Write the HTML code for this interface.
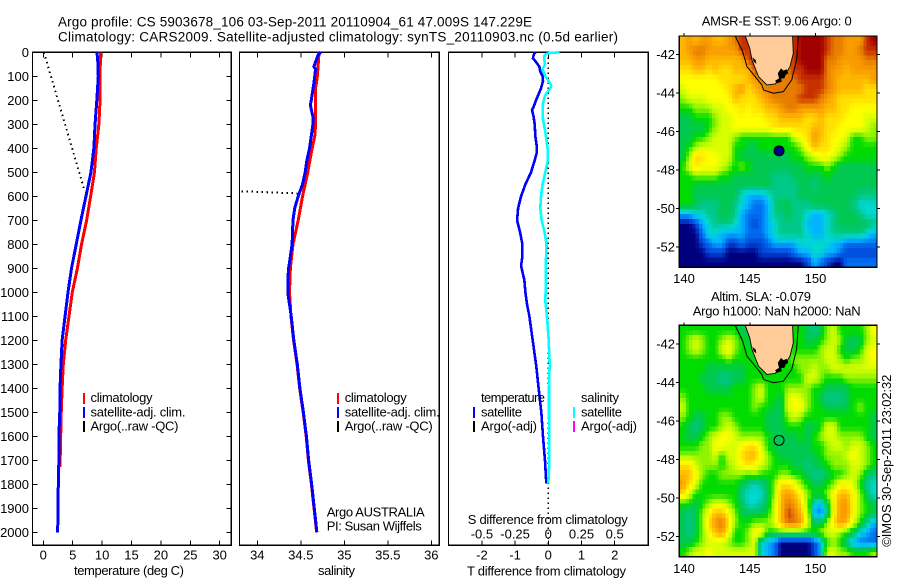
<!DOCTYPE html>
<html>
<head>
<meta charset="utf-8">
<title>Argo profile</title>
<style>
html,body{margin:0;padding:0;background:#fff;}
svg{display:block;font-family:"Liberation Sans",sans-serif;font-size:13px;fill:#000;}
text{fill:#000;stroke:none;}
</style>
</head>
<body>
<svg id="fig" width="900" height="580" viewBox="0 0 900 580" xmlns="http://www.w3.org/2000/svg">
  <defs>
    <clipPath id="clip-map1"><rect x="679.3" y="36" width="197.7" height="231.3"/></clipPath>
    <clipPath id="clip-map2"><rect x="679.3" y="325.3" width="197.7" height="231.4"/></clipPath>
  </defs>
  <rect x="0" y="0" width="900" height="580" fill="#fff"/>
  <text x="58" y="26.5" font-size="13.5" textLength="474">Argo profile: CS 5903678_106 03-Sep-2011 20110904_61 47.009S 147.229E</text>
  <text x="58" y="41.5" font-size="13.5" textLength="560">Climatology: CARS2009. Satellite-adjusted climatology: synTS_20110903.nc (0.5d earlier)</text>

  <g id="p1"></g>
  <g id="p2"></g>
  <g id="p3"></g>
  <g id="m1"></g>
  <g id="m2"></g>

  <text x="74" y="575" textLength="110">temperature (deg C)</text>
  <text x="318" y="575" textLength="37">salinity</text>
  <text x="467" y="575.3" textLength="159">T difference from climatology</text>
  <text x="467.7" y="524" textLength="160">S difference from climatology</text>

  <g>
    <rect x="83" y="393" width="2" height="11" fill="#f00"/>
    <text x="90.5" y="402" textLength="62">climatology</text>
    <rect x="83" y="407" width="2" height="11" fill="#00f"/>
    <text x="90.5" y="416.5" textLength="95">satellite-adj. clim.</text>
    <rect x="83" y="421" width="2" height="11" fill="#000"/>
    <text x="90.5" y="430.5" textLength="88">Argo(..raw -QC)</text>
  </g>
  <g>
    <rect x="337" y="393" width="2" height="11" fill="#f00"/>
    <text x="344.7" y="402" textLength="62">climatology</text>
    <rect x="337" y="407" width="2" height="11" fill="#00f"/>
    <text x="344.7" y="416.5" textLength="95">satellite-adj. clim.</text>
    <rect x="337" y="421" width="2" height="11" fill="#000"/>
    <text x="344.7" y="430.5" textLength="88">Argo(..raw -QC)</text>
    <text x="326.7" y="516.7" textLength="98">Argo AUSTRALIA</text>
    <text x="326.7" y="530.7" textLength="95">PI: Susan Wijffels</text>
  </g>
  <g>
    <text x="481" y="402" textLength="64">temperature</text>
    <rect x="473" y="407" width="2" height="11" fill="#00f"/>
    <text x="481" y="416.5" textLength="41">satellite</text>
    <rect x="473" y="421" width="2" height="11" fill="#000"/>
    <text x="481" y="430.5" textLength="56">Argo(-adj)</text>
    <text x="581" y="402" textLength="38">salinity</text>
    <rect x="573" y="407" width="2" height="11" fill="#0ff"/>
    <text x="581" y="416.5" textLength="41">satellite</text>
    <rect x="573" y="421" width="2" height="11" fill="#f0f"/>
    <text x="581" y="430.5" textLength="56">Argo(-adj)</text>
  </g>

  <text x="701.7" y="25.7" textLength="150">AMSR-E SST: 9.06  Argo: 0</text>
  <text x="711" y="301" textLength="100">Altim. SLA: -0.079</text>
  <text x="692.7" y="315.7" textLength="168">Argo h1000: NaN h2000: NaN</text>
  <text transform="translate(891,546.7) rotate(-90)" textLength="172">©IMOS 30-Sep-2011 23:02:32</text>
</svg>

<script>
// ---------- tick values ----------
const depthTicks = [0,100,200,300,400,500,600,700,800,900,1000,1100,1200,1300,1400,1500,1600,1700,1800,1900,2000];
const tempTicks = [0,5,10,15,20,25,30];
const salTicks = [34,34.5,35,35.5,36];
const salTickLabels = ['34','34.5','35','35.5','36'];
const tDiffTicks = [-2,-1,0,1,2];
const sDiffTicks = [-0.5,-0.25,0,0.25,0.5];
const lonTicks = [140,145,150];
const latTicks = [-42,-44,-46,-48,-50,-52];

// ---------- temperature profiles ----------
const climTempDepth = [0,200,300,400,500,600,700,800,900,1000,1100,1200,1300,1400,1500,1727];
const climTemp = [9.7,9.65,9.45,9.0,8.7,8.05,7.37,6.5,5.8,4.93,4.37,3.8,3.4,3.2,3.05,2.84];
const satTempDepth = [0,50,100,200,250,300,400,500,600,700,800,900,1000,1100,1200,1300,1400,1500,1600,1700,1800,1900,2000];
const satTemp = [9.13,9.3,9.35,9.1,8.95,8.8,8.6,8.1,7.25,6.4,5.6,4.8,4.2,3.7,3.2,3.0,2.85,2.8,2.65,2.65,2.55,2.5,2.44];
const argoTempDepth = [0,575];
const argoTemp = [0.1,7.0];

// ---------- salinity profiles ----------
const climSalDepth = [0,50,100,150,200,250,300,350,400,500,600,700,800,900,1000,1100,1200,1300,1400,1500,1600,1700,1800,1900,2000];
const climSal = [34.71,34.70,34.69,34.67,34.67,34.67,34.67,34.66,34.63,34.58,34.52,34.47,34.41,34.38,34.37,34.387,34.417,34.457,34.487,34.527,34.562,34.587,34.622,34.652,34.682];
const satSalDepth = [0,10,30,60,70,100,130,200,220,270,300,350,400,450,500,550,600,650,700,800,850,900,950,1000,1100,1200,1300,1400,1500,1600,1700,1800,1900,2000];
const satSal = [34.73,34.70,34.68,34.65,34.67,34.66,34.65,34.62,34.61,34.64,34.64,34.62,34.60,34.57,34.55,34.52,34.47,34.43,34.41,34.40,34.38,34.36,34.35,34.35,34.39,34.42,34.46,34.49,34.53,34.565,34.59,34.625,34.655,34.685];
const argoSalDepth = [579,588];
const argoSal = [33.82,34.46];

// ---------- difference profiles ----------
const tDiffDepth = [0,10,25,40,60,80,100,120,150,200,230,240,270,300,350,390,420,450,500,550,600,650,700,750,800,850,890,950,1000,1050,1100,1200,1300,1400,1500,1600,1700,1796];
const tDiff = [-0.39,-0.44,-0.46,-0.37,-0.27,-0.24,-0.17,-0.16,-0.22,-0.37,-0.45,-0.49,-0.44,-0.41,-0.39,-0.35,-0.35,-0.41,-0.52,-0.69,-0.82,-0.91,-0.94,-0.85,-0.78,-0.78,-0.82,-0.72,-0.69,-0.64,-0.57,-0.47,-0.37,-0.29,-0.21,-0.16,-0.10,-0.06];
const sDiffDepth = [0,3,10,30,50,70,90,100,120,140,150,180,220,280,330,400,450,500,550,600,650,700,750,800,900,1000,1032,1100,1200,1300,1400,1500,1600,1700,1796];
const sDiff = [0.083,0.008,-0.028,-0.03,-0.025,-0.043,-0.03,-0.023,0.003,0.023,0.015,-0.025,-0.043,-0.04,-0.023,-0.005,-0.003,-0.023,-0.043,-0.055,-0.06,-0.05,-0.028,-0.013,-0.02,-0.02,-0.023,-0.01,0.003,0.01,0.005,0.005,0.008,0.008,0];

// ---------- map data (0.5 degree cells, colour levels 0-16) ----------
const sstRows = [
[12,13,12,13,13,12,12,13,14,15,15,12,15,15,15,15,15,15,16,16,16,16,15,14,14,13,13,13,15,16],
[12,13,14,14,13,13,13,13,13,15,15,14,15,15,15,15,15,15,16,16,16,16,15,14,14,13,13,14,15,15],
[12,12,13,13,12,12,12,12,12,12,15,15,15,14,14,14,14,15,16,16,16,16,14,14,13,13,13,13,14,14],
[11,11,12,12,11,12,11,11,12,12,12,15,15,15,14,14,14,15,15,16,16,16,14,13,13,12,13,13,13,13],
[10,10,10,10,10,10,11,11,11,11,12,13,14,14,14,14,14,14,15,15,15,15,14,13,12,12,12,12,12,13],
[9,10,10,10,10,10,10,11,12,13,11,12,13,14,14,14,14,14,14,15,15,15,14,13,12,12,12,12,11,11],
[8,9,9,9,10,10,10,10,12,11,11,11,12,13,14,14,14,14,15,15,15,14,13,12,11,11,11,11,11,11],
[7,7,8,8,8,9,9,10,10,11,10,11,11,12,12,13,14,14,13,13,13,13,12,12,11,11,10,10,10,10],
[6,6,7,7,7,8,9,9,10,10,10,10,10,11,11,12,12,12,12,11,11,12,11,11,11,10,10,10,9,9],
[6,6,6,6,7,8,9,9,10,10,10,10,10,10,11,11,11,11,11,11,12,12,11,11,10,10,10,10,9,8],
[6,6,7,7,8,9,9,9,8,7,7,7,7,7,7,7,7,9,10,11,13,12,11,10,10,9,7,7,8,8],
[6,7,8,9,9,9,9,9,7,7,6,6,7,7,7,7,7,7,8,10,12,11,11,10,9,8,7,7,7,7],
[6,8,11,11,10,10,9,9,7,6,6,6,6,6,6,6,6,7,7,8,9,10,10,9,8,7,7,7,7,7],
[7,9,11,10,10,10,9,8,7,8,7,6,6,6,6,6,6,6,6,7,7,7,8,7,6,6,6,6,6,6],
[7,7,8,8,8,8,7,7,6,6,6,6,6,6,5,5,5,6,6,6,6,6,7,6,6,6,6,6,6,6],
[7,7,6,6,6,6,6,6,6,6,6,6,6,6,5,5,5,5,6,6,5,6,6,6,6,6,6,6,6,6],
[7,7,6,6,6,6,6,6,6,4,3,3,3,4,5,5,5,5,6,6,6,6,6,6,6,6,6,5,5,5],
[7,7,6,5,5,5,6,6,5,4,3,2,2,3,5,6,6,5,5,5,6,6,6,6,6,6,5,4,4,4],
[3,3,4,4,5,5,6,6,5,3,2,2,2,3,5,5,6,5,5,4,3,3,4,5,6,6,6,5,4,4],
[0,0,1,3,4,5,5,5,4,3,2,1,2,3,4,5,5,5,5,3,3,3,4,5,6,6,6,6,6,5],
[0,0,0,2,4,4,3,3,3,3,2,2,2,3,4,5,5,5,5,4,3,3,4,5,5,5,5,5,4,3],
[0,0,0,1,2,3,3,1,1,2,1,1,1,2,3,3,3,3,4,4,4,4,4,3,3,2,2,2,2,2],
[0,0,0,0,1,1,1,0,0,0,0,0,1,1,1,1,1,2,3,3,4,4,3,3,2,1,1,1,1,1],
[0,0,0,0,0,0,0,0,0,0,0,0,0,0,0,0,0,0,0,1,3,2,1,0,0,2,2,2,2,2]
];
const slaRows = [
[7,7,7,7,7,7,7,7,7,6,6,7,7,7,7,7,7,7,7,6,5,6,8,9,7,7,7,7,8,10],
[7,8,9,8,7,7,8,9,8,7,6,6,7,7,7,7,7,7,7,6,6,7,8,9,8,6,6,6,8,9],
[7,8,9,8,7,7,9,10,8,7,7,6,7,7,7,7,7,7,7,7,7,8,9,9,7,6,6,7,9,10],
[7,7,7,7,7,7,7,8,7,7,7,7,7,7,7,7,7,8,8,8,8,8,9,9,8,7,8,8,9,10],
[7,7,7,7,6,6,6,6,6,6,7,7,7,7,7,7,7,7,8,8,9,8,8,9,9,9,9,9,9,9],
[7,7,7,6,6,6,5,5,6,6,7,7,7,7,7,7,7,7,7,9,9,8,7,7,7,8,8,8,8,8],
[7,7,7,7,6,6,6,6,7,7,7,8,9,7,7,7,8,8,8,8,7,7,6,6,6,6,7,7,7,7],
[8,7,7,7,7,7,7,7,7,7,7,8,9,7,7,6,9,10,9,8,7,6,5,5,5,6,7,7,7,7],
[9,7,7,7,7,7,7,7,7,7,7,8,7,7,6,6,9,10,10,8,7,7,6,6,6,6,7,8,7,7],
[8,7,6,6,7,7,8,8,7,7,7,7,7,6,6,6,8,9,8,7,7,7,7,7,7,7,7,7,7,6],
[7,6,5,6,7,7,8,9,8,7,7,7,7,6,6,6,7,7,7,6,6,7,9,9,7,7,7,7,7,6],
[7,6,6,7,8,9,10,10,9,8,8,8,8,7,6,6,6,6,7,6,7,8,9,9,8,8,8,8,7,6],
[7,7,7,8,8,10,10,9,9,10,11,11,9,7,6,6,6,6,6,6,7,7,8,9,9,8,9,9,8,7],
[8,8,8,8,8,9,7,9,9,11,12,12,10,8,7,6,6,6,6,6,6,7,8,8,8,9,10,9,8,7],
[11,11,9,8,8,8,7,8,9,10,11,10,9,8,7,7,7,6,6,5,6,6,7,8,8,8,9,9,8,7],
[12,12,10,8,7,7,8,8,8,8,7,8,7,7,7,8,8,7,7,6,5,5,6,7,7,8,9,8,6,5],
[13,11,9,7,7,7,7,7,7,6,5,4,5,6,8,11,11,10,8,7,6,6,7,8,10,10,9,7,5,4],
[11,9,7,7,7,7,7,7,7,5,4,4,4,6,8,12,13,12,10,8,7,7,8,10,12,12,10,8,6,4],
[7,7,6,7,8,9,9,8,7,6,4,4,5,6,9,12,14,13,11,8,4,3,6,10,13,13,10,8,7,6],
[6,5,6,8,10,12,12,10,8,6,6,6,6,7,9,12,15,14,12,9,3,2,5,10,13,13,10,8,7,6],
[6,5,6,8,11,13,14,11,8,7,7,8,8,8,9,12,14,14,13,9,6,6,8,11,13,12,9,7,5,3],
[6,5,6,8,10,12,13,10,7,7,8,10,10,7,7,7,7,7,7,7,7,8,9,9,8,7,6,4,3,2],
[6,6,7,8,9,9,9,8,7,7,8,9,4,3,2,0,0,0,0,0,1,3,7,8,7,5,3,2,2,2],
[7,8,9,9,10,9,9,9,9,9,9,9,4,3,2,0,0,0,0,0,1,3,9,9,8,8,7,7,7,8]
];
const levelColors = ['#00007f','#0044d8','#0070f0','#00b4ff','#00d8d0','#00c888','#00c850','#00dc00','#90f400','#d8ff00','#ffff00','#ffe000','#ffb800','#f89c00','#e67c00','#c83000','#a00000'];
const levelRgb = levelColors.map(h => [parseInt(h.slice(1,3),16), parseInt(h.slice(3,5),16), parseInt(h.slice(5,7),16)]);

// ---------- coastline (lon, lat) ----------
const landLon = [144.66,145.0,145.17,145.42,145.67,146.05,146.3,146.93,147.23,147.68,148.06,148.31,148.26];
const landLat = [-41.05,-41.69,-42.29,-42.73,-43.16,-43.42,-43.59,-43.54,-43.33,-43.07,-42.64,-41.95,-41.05];
const contourLon = [143.9,144.46,144.79,145.42,145.92,146.05,146.8,147.56,148.19,148.56,148.69];
const contourLat = [-41.05,-41.86,-42.64,-43.16,-43.59,-43.85,-44.02,-43.94,-43.33,-42.29,-41.05];
const inletLon = [147.13,147.38,147.56,147.81,147.93,147.73,147.63,147.38,147.43,147.05,146.93,147.23];
const inletLat = [-42.99,-42.73,-42.85,-42.78,-42.99,-43.07,-43.25,-43.25,-43.42,-43.51,-43.37,-43.25];
const inlet2Lon = [145.2,145.45,145.5,145.3];
const inlet2Lat = [-42.15,-42.3,-42.5,-42.38];
const profileLon = 147.229;
const profileLat = -47.009;

// ---------- axis functions ----------
const FRAME_TOP = 52.3, FRAME_BOTTOM = 545.3;
const yDepth = d => 52.3 + 0.24 * d;
const xTemp = t => 43.3 + 5.88 * t;
const xSal = s => 257.3 + 87 * (s - 34);
const xTDiff = t => 548.3 + 33.2 * t;
const xSDiff = s => 548.3 + 132.8 * s;
const xLon = lon => 684 + 13.15 * (lon - 140);
const yLat1 = lat => 54.3 + 19.27 * (-42 - lat);
const yLat2 = lat => 343.8 + 19.27 * (-42 - lat);

const NS = 'http://www.w3.org/2000/svg';
function mk(tag, parent) {
  const el = document.createElementNS(NS, tag);
  parent.appendChild(el);
  return el;
}
function tickLine(parent, x1, y1, x2, y2, name) {
  const el = mk('line', parent);
  
  
  el.setAttribute('x1', x1); el.setAttribute('y1', y1);
  el.setAttribute('x2', x2); el.setAttribute('y2', y2);
  el.setAttribute('stroke', '#000');
  el.setAttribute('stroke-width', '1');
  el.setAttribute('shape-rendering', 'crispEdges');
  return el;
}
function label(parent, x, y, txt, anchor, name) {
  const el = mk('text', parent);
  
  
  el.setAttribute('x', x); el.setAttribute('y', y);
  el.setAttribute('text-anchor', anchor);
  el.textContent = txt;
  return el;
}
function frame(parent, x, y, w, h, name) {
  const el = mk('rect', parent);
  
  
  el.setAttribute('x', x); el.setAttribute('y', y);
  el.setAttribute('width', w); el.setAttribute('height', h);
  el.setAttribute('fill', 'none');
  el.setAttribute('stroke', '#000');
  el.setAttribute('stroke-width', '1.2');
  el.setAttribute('shape-rendering', 'crispEdges');
  return el;
}
function curve(parent, xs, ys, xFn, color, width, dash, name) {
  const el = mk('polyline', parent);
  
  
  el.setAttribute('points', xs.map((v, i) => xFn(v).toFixed(2) + ',' + yDepth(ys[i]).toFixed(2)).join(' '));
  el.setAttribute('fill', 'none');
  el.setAttribute('stroke', color);
  el.setAttribute('stroke-width', width);
  if (dash) el.setAttribute('stroke-dasharray', dash);
  el.setAttribute('shape-rendering', 'crispEdges');
  return el;
}

// ---------- panel 1: temperature ----------
const p1 = document.getElementById('p1');
frame(p1, 32.5, FRAME_TOP, 198.8, FRAME_BOTTOM - FRAME_TOP, 'temperature-plot-frame');
tempTicks.forEach(t => {
  tickLine(p1, xTemp(t), FRAME_TOP, xTemp(t), FRAME_TOP + 5, 'temperature-top-tick');
  tickLine(p1, xTemp(t), FRAME_BOTTOM, xTemp(t), FRAME_BOTTOM - 5, 'temperature-bottom-tick');
  label(p1, xTemp(t), 559.3, String(t), 'middle', 'temperature-tick-label');
});
depthTicks.forEach(d => {
  tickLine(p1, 32.5, yDepth(d), 37.5, yDepth(d), 'depth-left-tick');
  tickLine(p1, 231.3, yDepth(d), 226.3, yDepth(d), 'depth-right-tick');
  label(p1, 29, yDepth(d) + 4.7, String(d), 'end', 'depth-tick-label');
});
curve(p1, argoTemp, argoTempDepth, xTemp, '#000', 2, '1.5 3.5', 'argo-temperature-line');
curve(p1, climTemp, climTempDepth, xTemp, '#f00', 3, null, 'climatology-temperature-line');
curve(p1, satTemp, satTempDepth, xTemp, '#00f', 3, null, 'satellite-temperature-line');

// ---------- panel 2: salinity ----------
const p2 = document.getElementById('p2');
frame(p2, 239.5, FRAME_TOP, 199.8, FRAME_BOTTOM - FRAME_TOP, 'salinity-plot-frame');
salTicks.forEach((s, i) => {
  tickLine(p2, xSal(s), FRAME_TOP, xSal(s), FRAME_TOP + 5, 'salinity-top-tick');
  tickLine(p2, xSal(s), FRAME_BOTTOM, xSal(s), FRAME_BOTTOM - 5, 'salinity-bottom-tick');
  label(p2, xSal(s), 559.3, salTickLabels[i], 'middle', 'salinity-tick-label');
});
curve(p2, argoSal, argoSalDepth, xSal, '#000', 2, '1.5 3.5', 'argo-salinity-line');
curve(p2, climSal, climSalDepth, xSal, '#f00', 3, null, 'climatology-salinity-line');
curve(p2, satSal, satSalDepth, xSal, '#00f', 3, null, 'satellite-salinity-line');

// ---------- panel 3: differences ----------
const p3 = document.getElementById('p3');
frame(p3, 448.5, FRAME_TOP, 199.8, FRAME_BOTTOM - FRAME_TOP, 'difference-plot-frame');
tDiffTicks.forEach(t => {
  tickLine(p3, xTDiff(t), FRAME_TOP, xTDiff(t), FRAME_TOP + 5, 'difference-top-tick');
  tickLine(p3, xTDiff(t), FRAME_BOTTOM, xTDiff(t), FRAME_BOTTOM - 5, 'difference-bottom-tick');
  label(p3, xTDiff(t), 559.3, String(t), 'middle', 't-difference-tick-label');
});
sDiffTicks.forEach(s => {
  label(p3, xSDiff(s), 538.7, String(s), 'middle', 's-difference-tick-label');
});
const zeroLine = tickLine(p3, xTDiff(0), FRAME_TOP, xTDiff(0), FRAME_BOTTOM, 'zero-difference-line');
zeroLine.setAttribute('stroke-width', '1.5');
zeroLine.setAttribute('stroke-dasharray', '1.5 3.5');
curve(p3, tDiff, tDiffDepth, xTDiff, '#00f', 2.6, null, 't-difference-line');
curve(p3, sDiff, sDiffDepth, xSDiff, '#0ff', 2.6, null, 's-difference-line');

// ---------- maps ----------
function levelAt(rows, r, c) {
  const rr = Math.max(0, Math.min(rows.length - 1, r));
  const cc = Math.max(0, Math.min(rows[0].length - 1, c));
  const r0 = Math.floor(rr), c0 = Math.floor(cc);
  const r1 = Math.min(rows.length - 1, r0 + 1), c1 = Math.min(rows[0].length - 1, c0 + 1);
  const fr = rr - r0, fc = cc - c0;
  return (rows[r0][c0] * (1 - fc) + rows[r0][c1] * fc) * (1 - fr) +
         (rows[r1][c0] * (1 - fc) + rows[r1][c1] * fc) * fr;
}
function levelColor(v) {
  const i = Math.min(levelRgb.length - 2, Math.floor(v));
  const f = v - i;
  const a = levelRgb[i], b = levelRgb[i + 1];
  return 'rgb(' + Math.round(a[0] + (b[0] - a[0]) * f) + ',' + Math.round(a[1] + (b[1] - a[1]) * f) + ',' + Math.round(a[2] + (b[2] - a[2]) * f) + ')';
}
function drawMap(groupId, rows, yLat, clipId, framePrefix, latLabelBase, topY, frameH, filled) {
  const g = document.getElementById(groupId);
  const cells = mk('g', g);
  
  
  cells.setAttribute('shape-rendering', 'crispEdges');
  cells.setAttribute('clip-path', 'url(#' + clipId + ')');
  const lon0 = 139.64, lat0 = -41.05;
  const nRows = rows.length * 2, nCols = rows[0].length * 2;
  for (let i = 0; i < nRows; i++) {
    for (let j = 0; j < nCols; j++) {
      const v = levelAt(rows, (i + 0.5) / 2 - 0.5, (j + 0.5) / 2 - 0.5);
      const cell = mk('rect', cells);
      
      
      const x0 = xLon(lon0 + j * 0.25), x1 = xLon(lon0 + (j + 1) * 0.25);
      const y0 = yLat(lat0 - i * 0.25), y1 = yLat(lat0 - (i + 1) * 0.25);
      cell.setAttribute('x', x0.toFixed(2));
      cell.setAttribute('y', y0.toFixed(2));
      cell.setAttribute('width', (x1 - x0 + 0.6).toFixed(2));
      cell.setAttribute('height', (y1 - y0 + 0.6).toFixed(2));
      cell.setAttribute('fill', levelColor(v));
    }
  }
  const over = mk('g', g);
  
  
  over.setAttribute('clip-path', 'url(#' + clipId + ')');
  const pts = (lons, lats) => lons.map((l, i) => xLon(l).toFixed(2) + ',' + yLat(lats[i]).toFixed(2)).join(' ');

  const land = mk('polygon', over);
  
  
  land.setAttribute('points', pts(landLon, landLat));
  land.setAttribute('fill', '#ffcc99');
  land.setAttribute('stroke', '#000');
  land.setAttribute('stroke-width', '0.9');

  const inlet = mk('polygon', over);
  
  
  inlet.setAttribute('points', pts(inletLon, inletLat));
  inlet.setAttribute('fill', '#000');

  const inlet2 = mk('polygon', over);
  
  
  inlet2.setAttribute('points', pts(inlet2Lon, inlet2Lat));
  inlet2.setAttribute('fill', '#000');

  const contour = mk('polyline', over);
  
  
  contour.setAttribute('points', pts(contourLon, contourLat));
  contour.setAttribute('fill', 'none');
  contour.setAttribute('stroke', '#000');
  contour.setAttribute('stroke-width', '1');

  const marker = mk('circle', over);
  
  
  marker.setAttribute('cx', xLon(profileLon));
  marker.setAttribute('cy', yLat(profileLat));
  marker.setAttribute('r', '5');
  marker.setAttribute('fill', filled ? '#00007f' : 'none');
  marker.setAttribute('stroke', '#000');
  marker.setAttribute('stroke-width', '1');

  frame(g, 679.3, topY, 197.7, frameH, framePrefix + '-frame');
  lonTicks.forEach(l => {
    tickLine(g, xLon(l), topY, xLon(l), topY - 3, framePrefix + '-lon-tick');
    label(g, xLon(l), latLabelBase, String(l), 'middle', framePrefix + '-lon-label');
  });
  latTicks.forEach(l => {
    tickLine(g, 679.3, yLat(l), 676, yLat(l), framePrefix + '-lat-left-tick');
    tickLine(g, 877, yLat(l), 880, yLat(l), framePrefix + '-lat-right-tick');
    label(g, 675, yLat(l) + 4.7, String(l), 'end', framePrefix + '-lat-label');
  });
}
drawMap('m1', sstRows, yLat1, 'clip-map1', 'sst-map', 283, 36, 231.3, true);
drawMap('m2', slaRows, yLat2, 'clip-map2', 'sla-map', 573, 325.3, 231.4, false);
</script>
</body>
</html>
